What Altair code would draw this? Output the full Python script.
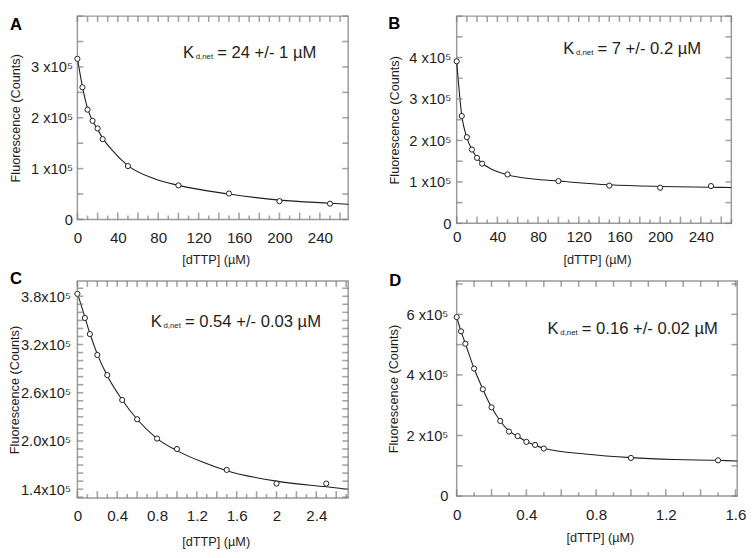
import altair as alt
import numpy as np
import pandas as pd

FONT = "Liberation Sans"
INK = "#1e1e1e"
FRAME = "#9b9b9b"
TICK = "#7d7d7d"

# ---------------- data (fluorescence in units of 1e5 counts) ----------------
A_x = [0, 5, 10, 15, 20, 25, 50, 100, 150, 200, 250]
A_y = [3.16, 2.60, 2.16, 1.94, 1.79, 1.58, 1.05, 0.67, 0.51, 0.36, 0.31]
A_fit_x = [0, 5, 10, 15, 20, 25, 35, 50, 75, 100, 150, 200, 250, 268]
A_fit_y = [3.17, 2.61, 2.19, 1.94, 1.77, 1.60, 1.35, 1.06, 0.81, 0.67, 0.50, 0.38, 0.32, 0.30]

B_x = [0, 5, 10, 15, 20, 25, 50, 100, 150, 200, 250]
B_y = [3.91, 2.59, 2.08, 1.78, 1.58, 1.44, 1.18, 1.02, 0.91, 0.86, 0.90]
B_fit_x = [0, 5, 10, 15, 20, 25, 35, 50, 75, 100, 150, 200, 250, 270]
B_fit_y = [3.91, 2.60, 2.07, 1.78, 1.58, 1.45, 1.30, 1.17, 1.07, 1.02, 0.93, 0.89, 0.87, 0.865]

C_x = [0, 0.075, 0.125, 0.2, 0.3, 0.45, 0.6, 0.8, 1.0, 1.5, 2.0, 2.5]
C_y = [3.83, 3.53, 3.33, 3.07, 2.82, 2.51, 2.27, 2.03, 1.90, 1.64, 1.47, 1.47]
C_fit_x = [0, 0.075, 0.125, 0.2, 0.3, 0.45, 0.6, 0.8, 1.0, 1.25, 1.5, 2.0, 2.5, 2.72]
C_fit_y = [3.84, 3.54, 3.34, 3.08, 2.81, 2.51, 2.27, 2.03, 1.88, 1.74, 1.63, 1.50, 1.43, 1.40]

D_x = [0, 0.025, 0.05, 0.1, 0.15, 0.2, 0.25, 0.3, 0.35, 0.4, 0.45, 0.5, 1.0, 1.5]
D_y = [5.91, 5.44, 5.03, 4.21, 3.53, 2.93, 2.48, 2.13, 1.98, 1.79, 1.69, 1.57, 1.26, 1.18]
D_fit_x = [0, 0.025, 0.05, 0.1, 0.15, 0.2, 0.25, 0.3, 0.35, 0.4, 0.45, 0.5, 0.75, 1.0, 1.25, 1.5, 1.61]
D_fit_y = [5.91, 5.44, 5.03, 4.21, 3.53, 2.93, 2.48, 2.15, 1.97, 1.80, 1.68, 1.58, 1.38, 1.27, 1.21, 1.18, 1.16]

KD_TEXT = {"A": "= 24 +/- 1 µM", "B": "= 7 +/- 0.2 µM",
           "C": "= 0.54 +/- 0.03 µM", "D": "= 0.16 +/- 0.02 µM"}

A_xlabels = [0, 40, 80, 120, 160, 200, 240]
B_xlabels = [0, 40, 80, 120, 160, 200, 240]
C_xlabels = [0, 0.4, 0.8, 1.2, 1.6, 2.0, 2.4]
D_xlabels = [0, 0.4, 0.8, 1.2, 1.6]
A_ylabels = [0, 1, 2, 3]
B_ylabels = [0, 1, 2, 3, 4]
C_ylabels = [1.4, 2.0, 2.6, 3.2, 3.8]
D_ylabels = [0, 2, 4, 6]

PANELS = [
    dict(letter="A", x=A_x, y=A_y, fx=A_fit_x, fy=A_fit_y, xdom=[0, 268], ydom=[0, 4],
         w=277, h=208, xlabels=A_xlabels, ylabels=A_ylabels,
         xfmt="format(datum.value, 'd')",
         yfmt="datum.value == 0 ? '0' : format(datum.value, 'd') + ' x10⁵'",
         xstep=10, ystep=0.5, xlabpad=12, ylabpad=5, xtitle_y=41, ytitle_x=-63,
         kx=108, ky=43, lx=-69, ly=14),
    dict(letter="B", x=B_x, y=B_y, fx=B_fit_x, fy=B_fit_y, xdom=[0, 270], ydom=[0, 5],
         w=281, h=212, xlabels=B_xlabels, ylabels=B_ylabels,
         xfmt="format(datum.value, 'd')",
         yfmt="datum.value == 0 ? '0' : format(datum.value, 'd') + ' x10⁵'",
         xstep=10, ystep=0.5, xlabpad=7, ylabpad=6, xtitle_y=37, ytitle_x=-63,
         kx=109, ky=39, lx=-70, ly=13),
    dict(letter="C", x=C_x, y=C_y, fx=C_fit_x, fy=C_fit_y, xdom=[0, 2.72], ydom=[1.29, 3.99],
         w=277, h=222, xlabels=C_xlabels, ylabels=C_ylabels,
         xfmt="format(datum.value, '.1~f')",
         yfmt="format(datum.value, '.1f') + 'x10⁵'",
         xstep=0.1, ystep=0.1, xlabpad=11, ylabpad=7, xtitle_y=45, ytitle_x=-64,
         kx=75, ky=47, lx=-69, ly=3),
    dict(letter="D", x=D_x, y=D_y, fx=D_fit_x, fy=D_fit_y, xdom=[0, 1.61], ydom=[0, 7.1],
         w=287, h=220, xlabels=D_xlabels, ylabels=D_ylabels,
         xfmt="format(datum.value, '.1~f')",
         yfmt="datum.value == 0 ? '0' : format(datum.value, 'd') + ' x10⁵'",
         xstep=0.1, ystep=1.0, xlabpad=12, ylabpad=9, xtitle_y=42, ytitle_x=-65,
         kx=93, ky=54, lx=-69, ly=5),
]


def tick_positions(lo, hi, step):
    k0 = int(np.ceil(lo / step - 1e-6))
    k1 = int(np.floor(hi / step + 1e-6))
    return [(float(round(k * step, 6)), k) for k in range(k0, k1 + 1)]


def one_row():
    return pd.DataFrame({"k": [0]})


def panel(p):
    w, h = p["w"], p["h"]
    xsc = alt.Scale(domain=p["xdom"], nice=False, zero=False)
    ysc = alt.Scale(domain=p["ydom"], nice=False, zero=False)
    xax = alt.Axis(values=p["xlabels"], labelExpr=p["xfmt"], ticks=False, tickSize=0,
                   domain=False, grid=False, labelFont=FONT, labelFontSize=15.5,
                   labelColor=INK, labelPadding=p["xlabpad"], labelFlush=False,
                   labelOverlap=False, title="[dTTP] (µM)", titleFont=FONT,
                   titleFontSize=13, titleFontWeight="normal", titleColor=INK,
                   titleX=w / 2 + 3, titleY=p["xtitle_y"], titleBaseline="middle",
                   titleAlign="center")
    yax = alt.Axis(values=p["ylabels"], labelExpr=p["yfmt"], ticks=False, tickSize=0,
                   domain=False, grid=False, labelFont=FONT, labelFontSize=15,
                   labelColor=INK, labelPadding=p["ylabpad"], labelFlush=False,
                   labelOverlap=False, title="Fluorescence (Counts)", titleFont=FONT,
                   titleFontSize=13, titleFontWeight="normal", titleColor=INK,
                   titleX=p["ytitle_x"], titleY=h / 2, titleAngle=-90,
                   titleBaseline="middle", titleAlign="center")
    X = alt.X("x:Q", scale=xsc, axis=xax)
    Y = alt.Y("y:Q", scale=ysc, axis=yax)

    xt = tick_positions(p["xdom"][0], p["xdom"][1], p["xstep"])
    yt = tick_positions(p["ydom"][0], p["ydom"][1], p["ystep"])
    xt_all = pd.DataFrame({"x": [v for v, k in xt]})
    xt_major = pd.DataFrame({"x": [v for v, k in xt if k % 2 == 0]})
    xt_minor = pd.DataFrame({"x": [v for v, k in xt if k % 2 != 0]})
    yt_all = pd.DataFrame({"y": [v for v, k in yt]})

    # inward-pointing frame ticks, kept inside the plot area
    tk = dict(color=TICK, thickness=1.6)
    top = alt.Chart(xt_all).mark_tick(orient="vertical", size=6, **tk).encode(
        x=X, y=alt.value(3))
    botM = alt.Chart(xt_major).mark_tick(orient="vertical", size=7, **tk).encode(
        x=X, y=alt.value(h - 3.5))
    botm = alt.Chart(xt_minor).mark_tick(orient="vertical", size=4, **tk).encode(
        x=X, y=alt.value(h - 2))
    left = alt.Chart(yt_all).mark_tick(orient="horizontal", size=6, **tk).encode(
        y=Y, x=alt.value(3))
    right = alt.Chart(yt_all).mark_tick(orient="horizontal", size=6, **tk).encode(
        y=Y, x=alt.value(w - 3))

    fit = alt.Chart(pd.DataFrame({"x": p["fx"], "y": p["fy"]})).mark_line(
        interpolate="monotone", color=INK, strokeWidth=1.1).encode(x=X, y=Y)
    pts = alt.Chart(pd.DataFrame({"x": p["x"], "y": p["y"]})).mark_point(
        shape="circle", filled=True, fill="white", stroke=INK, strokeWidth=1,
        size=28, opacity=1).encode(x=X, y=Y)

    kx, ky = p["kx"], p["ky"]
    k_main = alt.Chart(one_row()).mark_text(
        text="K", align="left", baseline="alphabetic", font=FONT, fontSize=17,
        color=INK).encode(x=alt.value(kx), y=alt.value(ky))
    k_sub = alt.Chart(one_row()).mark_text(
        text="d,net", align="left", baseline="alphabetic", font=FONT, fontSize=8,
        color=INK).encode(x=alt.value(kx + 13), y=alt.value(ky + 1))
    k_rest = alt.Chart(one_row()).mark_text(
        text=KD_TEXT[p["letter"]], align="left", baseline="alphabetic", font=FONT,
        fontSize=17, color=INK).encode(x=alt.value(kx + 35), y=alt.value(ky))
    letter = alt.Chart(one_row()).mark_text(
        text=p["letter"], align="left", baseline="alphabetic", font=FONT, fontSize=17,
        fontWeight="bold", color="#000000").encode(x=alt.value(p["lx"]), y=alt.value(p["ly"]))

    return alt.layer(fit, pts, k_main, k_sub, k_rest, letter,
                     top, botM, botm, left, right).properties(width=w, height=h)


chart = alt.concat(*[panel(p) for p in PANELS], columns=2,
                   spacing={"row": 59, "column": 111}, bounds="flush").properties(
    padding=0, background="white"
).configure_view(stroke=FRAME, strokeWidth=1.5)

chart.save("out.html", embed_options={"renderer": "svg", "actions": False})
